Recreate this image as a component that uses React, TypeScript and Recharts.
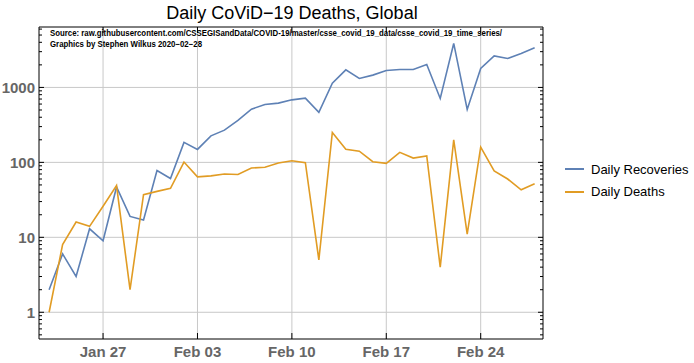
import { CartesianGrid, Legend, Line, LineChart, XAxis, YAxis } from 'recharts'

// Jan 22 = day 0
const firstDay = 1
const seriesNames = ['Daily Recoveries', 'Daily Deaths']
const recoveries = [
  2, 6, 3, 13, 9, 47, 19, 17, 78, 61, 185, 149, 226, 269, 363, 513, 593, 617,
  683, 720, 464, 1140, 1718, 1318, 1459, 1685, 1738, 1738, 2027, 713, 3860,
  509, 1791, 2637, 2436, 2840, 3375,
]
const deaths = [
  1, 8, 16, 14, 26, 49, 2, 37, 41, 45, 101, 64, 66, 70, 69, 84, 86, 98, 105,
  99, 5, 251, 150, 141, 102, 97, 136, 114, 122, 4, 200, 11, 160, 77, 60, 43,
  52,
]

const xTicks = [5, 12, 19, 26, 33]
const xTickLabels = ['Jan 27', 'Feb 03', 'Feb 10', 'Feb 17', 'Feb 24']
const yMajor = [1, 10, 100, 1000]
const yTicks = [
  0.5, 0.6, 0.7, 0.8, 0.9, 1, 2, 3, 4, 5, 6, 7, 8, 9, 10, 20, 30, 40, 50, 60,
  70, 80, 90, 100, 200, 300, 400, 500, 600, 700, 800, 900, 1000, 2000, 3000,
  4000, 5000, 6000,
]

const data = recoveries.map((r, i) => ({
  day: firstDay + i,
  recoveries: r,
  deaths: deaths[i],
}))

const BLUE = '#5e81b5'
const ORANGE = '#e19c24'
const FONT = '"Liberation Sans", Arial, sans-serif'

const LeftTick = ({ x, y, payload }: any) => {
  const major = yMajor.includes(payload.value)
  return (
    <g>
      <line x1={x} x2={x + (major ? 5 : 3)} y1={y} y2={y} stroke="#000" />
      {major && (
        <text
          x={x - 4}
          y={y}
          dy="0.36em"
          textAnchor="end"
          fontSize={15}
          fontWeight="bold"
          fill="#666"
          fontFamily={FONT}
        >
          {payload.value}
        </text>
      )}
    </g>
  )
}

const RightTick = ({ x, y, payload }: any) => {
  const major = yMajor.includes(payload.value)
  return <line x1={x} x2={x - (major ? 5 : 3)} y1={y} y2={y} stroke="#000" />
}

const BottomTick = ({ x, y, payload }: any) => (
  <g>
    <line x1={x} x2={x} y1={y} y2={y - 6} stroke="#000" />
    <text
      x={x}
      y={y + 13}
      dy="0.36em"
      textAnchor="middle"
      fontSize={15}
      fontWeight="bold"
      fill="#666"
      fontFamily={FONT}
    >
      {xTickLabels[xTicks.indexOf(payload.value)]}
    </text>
  </g>
)

const TopTick = ({ x, y }: any) => (
  <line x1={x} x2={x} y1={y} y2={y + 6} stroke="#000" />
)

const LegendContent = ({ payload }: any) => {
  const items = seriesNames
    .map((n) => payload.find((p: any) => p.value === n))
    .filter(Boolean)
  return (
    <div style={{ fontFamily: FONT, fontSize: 13, color: '#000', whiteSpace: 'nowrap' }}>
      {items.map((p: any) => (
        <div
          key={p.value}
          style={{ display: 'flex', alignItems: 'center', height: 22.4 }}
        >
          <svg width={26} height={10}>
            <line x1={0} x2={19} y1={5} y2={5} stroke={p.color} strokeWidth={2} />
          </svg>
          <span>{p.value}</span>
        </div>
      ))}
    </div>
  )
}

export default function App() {
  return (
    <div style={{ position: 'absolute', left: 0, top: 0 }}>
      <LineChart
        width={694}
        height={363}
        data={data}
        margin={{ top: 26, right: 150, bottom: 23, left: 38 }}
      >
        <text
          x={292}
          y={13}
          dy="0.36em"
          textAnchor="middle"
          fontSize={18}
          fontFamily={FONT}
        >
          Daily CoViD−19 Deaths, Global
        </text>
        <text
          x={50}
          y={33}
          dy="0.36em"
          fontSize={8.5}
          fontWeight="bold"
          fontFamily={FONT}
          textLength={452}
          lengthAdjust="spacingAndGlyphs"
        >
          Source:
          raw.githubusercontent.com/CSSEGISandData/COVID-19/master/csse_covid_19_data/csse_covid_19_time_series/
        </text>
        <text
          x={50}
          y={44}
          dy="0.36em"
          fontSize={8.5}
          fontWeight="bold"
          fontFamily={FONT}
          textLength={152}
          lengthAdjust="spacingAndGlyphs"
        >
          Graphics by Stephen Wilkus 2020−02−28
        </text>
        <CartesianGrid
          stroke="#c8c8c8"
          horizontalValues={yMajor}
          verticalValues={xTicks}
        />
        <XAxis
          dataKey="day"
          type="number"
          domain={[0.25, 37.62]}
          ticks={xTicks}
          interval={0}
          height={1}
          tickSize={0}
          tickMargin={0}
          tickLine={false}
          axisLine={{ stroke: '#000' }}
          tick={BottomTick}
          allowDataOverflow
        />
        <XAxis
          xAxisId="top"
          orientation="top"
          dataKey="day"
          type="number"
          domain={[0.25, 37.62]}
          ticks={xTicks}
          interval={0}
          height={1}
          tickSize={0}
          tickMargin={0}
          tickLine={false}
          axisLine={{ stroke: '#000' }}
          tick={TopTick}
          allowDataOverflow
        />
        <YAxis
          scale="log"
          type="number"
          domain={[0.44, 6400]}
          ticks={yTicks}
          interval={0}
          width={1}
          tickSize={0}
          tickMargin={0}
          tickLine={false}
          axisLine={{ stroke: '#000' }}
          tick={LeftTick}
          allowDataOverflow
        />
        <YAxis
          yAxisId="right"
          orientation="right"
          scale="log"
          type="number"
          domain={[0.44, 6400]}
          ticks={yTicks}
          interval={0}
          width={1}
          tickSize={0}
          tickMargin={0}
          tickLine={false}
          axisLine={{ stroke: '#000' }}
          tick={RightTick}
          allowDataOverflow
        />
        <Legend
          layout="vertical"
          align="center"
          verticalAlign="middle"
          content={LegendContent}
          wrapperStyle={{ left: 565, top: 158, width: 126 }}
        />
        <Line
          name="Daily Recoveries"
          dataKey="recoveries"
          stroke={BLUE}
          strokeWidth={1.6}
          dot={false}
          isAnimationActive={false}
        />
        <Line
          name="Daily Deaths"
          dataKey="deaths"
          stroke={ORANGE}
          strokeWidth={1.6}
          dot={false}
          isAnimationActive={false}
        />
      </LineChart>
    </div>
  )
}
